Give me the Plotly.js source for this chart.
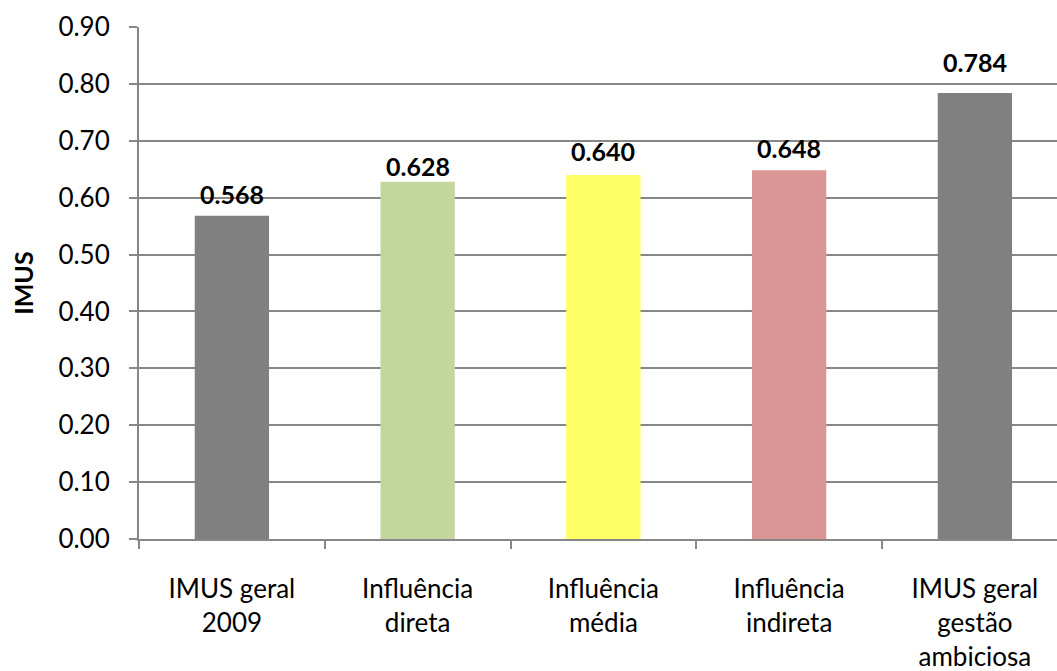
<!DOCTYPE html>
<html>
<head>
<meta charset="utf-8">
<script src="https://cdn.plot.ly/plotly-3.0.1.min.js"></script>
<style>
  html, body { margin: 0; padding: 0; background: #ffffff; }
  #chart { width: 1057px; height: 671px; }
</style>
</head>
<body>
<div id="chart"></div>
<script>
// IMUS index per scenario
const categories = [
  "IMUS geral<br>2009",
  "Influência<br>direta",
  "Influência<br>média",
  "Influência<br>indireta",
  "IMUS geral<br>gestão<br>ambiciosa"
];
const imusValues = [0.568, 0.628, 0.640, 0.648, 0.784];
const barColors = ["#808080", "#C3D69B", "#FFFF66", "#D99694", "#808080"];
const yTickValues = [0, 0.1, 0.2, 0.3, 0.4, 0.5, 0.6, 0.7, 0.8, 0.9];
const yTickLabels = ["0.00", "0.10", "0.20", "0.30", "0.40", "0.50", "0.60", "0.70", "0.80", "0.90"];

// vertical nudge (px) of each value label above its bar
const labelShift = [5, -1, 7, 5, 14];

const FONT = "Lato, 'Open Sans', sans-serif";
const GRID = "#878787";

const trace = {
  type: "bar",
  x: categories,
  y: imusValues,
  width: 0.4,
  marker: { color: barColors, line: { width: 0 } },
  hoverinfo: "x+y"
};

// value labels above each bar
const annotations = categories.map((c, i) => ({
  x: c,
  y: imusValues[i],
  xref: "x",
  yref: "y",
  text: "<b>" + imusValues[i].toFixed(3) + "</b>",
  showarrow: false,
  yanchor: "bottom",
  yshift: labelShift[i],
  font: { family: FONT, size: 25, color: "#000000" }
}));

const layout = {
  width: 1057,
  height: 671,
  margin: { l: 139, r: 0, t: 27, b: 132 },
  paper_bgcolor: "#ffffff",
  plot_bgcolor: "#ffffff",
  showlegend: false,
  font: { family: FONT, size: 26, color: "#000000" },
  xaxis: {
    type: "category",
    range: [-0.5, 4.442],
    showgrid: false,
    showline: true,
    linecolor: GRID,
    linewidth: 2,
    ticks: "outside",
    tickson: "boundaries",
    ticklen: 8,
    tickwidth: 2,
    tickcolor: GRID,
    ticklabelstandoff: 26,
    tickfont: { family: FONT, size: 26, color: "#000000" },
    zeroline: false,
    fixedrange: true
  },
  yaxis: {
    range: [0, 0.9],
    tickvals: yTickValues,
    ticktext: yTickLabels,
    showgrid: true,
    gridcolor: GRID,
    gridwidth: 2,
    showline: true,
    linecolor: GRID,
    linewidth: 2,
    ticks: "outside",
    ticklen: 8,
    tickwidth: 2,
    tickcolor: GRID,
    ticklabelstandoff: 14,
    tickfont: { family: FONT, size: 26, color: "#000000" },
    zeroline: false,
    title: {
      text: "<b>IMUS</b>",
      font: { family: FONT, size: 25, color: "#000000" },
      standoff: 18
    },
    fixedrange: true
  },
  annotations: annotations
};

Plotly.newPlot("chart", [trace], layout, { displayModeBar: false, staticPlot: true });
</script>
</body>
</html>
